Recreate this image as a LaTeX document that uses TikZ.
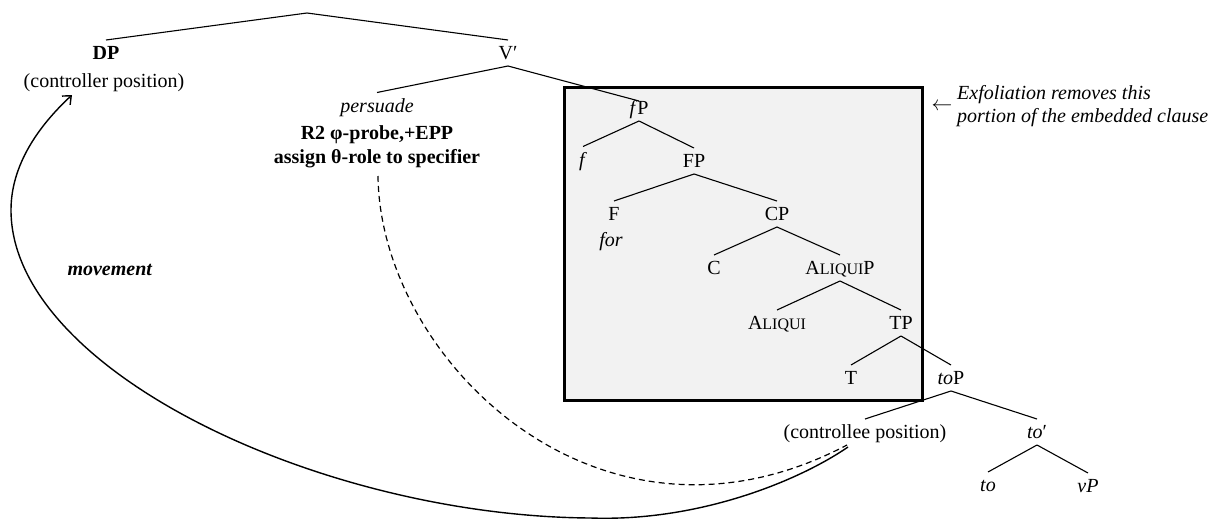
\documentclass[tikz,border=0pt]{standalone}
\usepackage{fontspec}
\setmainfont{Liberation Serif}
\usetikzlibrary{arrows.meta}
\newcommand{\fsc}[1]{{\fontsize{16}{16}\selectfont #1}}
\begin{document}
\begin{tikzpicture}[x=1pt,y=1pt,
  every node/.style={font=\fontsize{20}{24}\selectfont},
  tn/.style={inner xsep=1pt, inner ysep=0pt, text height=13pt, text depth=0pt, outer ysep=6.5pt},
  br/.style={line width=1.1pt},
  boxst/.style={draw, line width=3pt, fill=black!5, minimum width=358pt, minimum height=313pt, inner sep=0pt, anchor=north west},
  note/.style={inner sep=0pt, align=left, anchor=west, font=\fontsize{20}{23}\selectfont\itshape},
  mvarrow/.style={line width=1.4pt, -{Straight Barb[length=7pt,width=12pt,line width=1.4pt]}},
  agree/.style={line width=1.2pt, dash pattern=on 6pt off 4pt}]
\useasboundingbox (0,0) rectangle (1221,-519);
% shaded box
\node[boxst] (box) at (563,-86) {};
% tree nodes
\coordinate (root) at (307,-13);
\node[tn] (DP) at (106,-53) {\textbf{DP}};
\node[tn] (ctrl) at (104,-81) {(controller position)};
\node[tn] (Vb) at (508,-53) {V′};
\node[tn] (pers) at (377,-105.5) {\textit{persuade}};
\node[tn] (R2) at (377,-133) {\textbf{R2 φ-probe,+EPP}};
\node[tn] (theta) at (377,-157) {\textbf{assign θ-role to specifier}};
\node[tn] (fP) at (639,-108) {\textit{f}P};
\node[tn] (f) at (583,-159.5) {\textit{f}};
\node[tn] (FP) at (694,-161) {FP};
\node[tn] (F) at (614,-214) {F};
\node[tn] (for) at (611,-240) {\textit{for}};
\node[tn] (CP) at (777,-214) {CP};
\node[tn] (C) at (714,-268) {C};
\node[tn] (AP) at (840,-268) {A\fsc{LIQUI}P};
\node[tn] (Al) at (777,-323) {A\fsc{LIQUI}};
\node[tn] (TP) at (901,-323) {TP};
\node[tn] (T) at (851,-378) {T};
\node[tn] (toP) at (951,-378) {\textit{to}P};
\node[tn] (ctee) at (865,-432) {(controllee position)};
\node[tn] (tob) at (1037,-432) {\textit{to}′};
\node[tn] (to) at (988,-485) {\textit{to}};
\node[tn] (vP) at (1088,-486) {\textit{vP}};
% annotation
\node[inner sep=0pt] (larr) at (942,-107) {$\leftarrow$};
\node[note] (exf) at (957,-106.5) {Exfoliation removes this\\portion of the embedded clause};
\node[inner sep=0pt] (mv) at (110,-270) {\textbf{\textit{movement}}};
% branches
\draw[br] (root) -- (DP.north);
\draw[br] (root) -- (Vb.north);
\draw[br] (Vb.south) -- (pers.north);
\draw[br] (Vb.south) -- ([yshift=-6pt]fP.north);
\draw[br] (fP.south) -- (f.north);
\draw[br] (fP.south) -- (FP.north);
\draw[br] (FP.south) -- (F.north);
\draw[br] (FP.south) -- (CP.north);
\draw[br] (CP.south) -- (C.north);
\draw[br] (CP.south) -- (AP.north);
\draw[br] (AP.south) -- (Al.north);
\draw[br] (AP.south) -- (TP.north);
\draw[br] (TP.south) -- (T.north);
\draw[br] (TP.south) -- (toP.north);
\draw[br] (toP.south) -- (ctee.north);
\draw[br] (toP.south) -- (tob.north);
\draw[br] (tob.south) -- (to.north);
\draw[br] (tob.south) -- (vP.north);
% curves
\coordinate (mvs) at (848,-447);
\coordinate (mve) at (72,-95);
\coordinate (ds) at (378,-176);
\coordinate (de) at (847,-445);
\draw[mvarrow] (mvs) .. controls (800,-480) and (700,-522) .. (590,-518)
  .. controls (320,-516) and (11,-370) .. (11,-210)
  .. controls (11,-160) and (45,-120) .. (mve);
\draw[agree] (ds) .. controls (380,-360) and (600,-575) .. (de);
\end{tikzpicture}
\end{document}
